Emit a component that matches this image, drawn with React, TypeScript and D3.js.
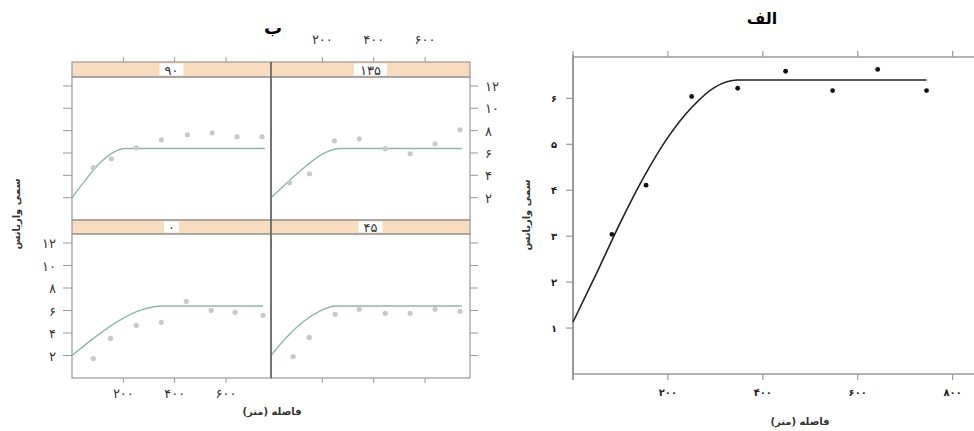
import React from "react";
import * as d3 from "d3";

// --- data: panel (ب), directional semivariograms ---
const angles = [0, 45, 90, 135];
const lag0 = [83, 150, 250, 348, 445, 542, 635, 744];
const gam0 = [1.73, 3.52, 4.68, 4.95, 6.82, 6.02, 5.84, 5.57];
const lag45 = [86, 149, 250, 344, 445, 542, 639, 736];
const gam45 = [1.91, 3.61, 5.66, 6.11, 5.75, 5.75, 6.11, 5.93];
const lag90 = [83, 153, 250, 348, 449, 546, 643, 740];
const gam90 = [4.68, 5.48, 6.46, 7.18, 7.63, 7.8, 7.45, 7.45];
const lag135 = [72, 150, 247, 344, 445, 542, 639, 736];
const gam135 = [3.34, 4.14, 7.09, 7.27, 6.38, 5.93, 6.82, 8.07];

// fitted model lines
const fitLag0 = [0, 90, 180, 270, 356, 744];
const fitGam0 = [2.0, 3.63, 5.05, 6.05, 6.4, 6.4];
const fitLag45 = [0, 60, 125, 190, 250, 743];
const fitGam45 = [2.0, 3.6, 5.0, 5.95, 6.4, 6.4];
const fitLag90 = [0, 50, 100, 150, 208, 751];
const fitGam90 = [2.0, 3.5, 4.9, 5.9, 6.4, 6.4];
const fitLag135 = [0, 70, 140, 200, 270, 743];
const fitGam135 = [2.0, 3.5, 4.9, 5.9, 6.4, 6.4];

const trellisXTicks = [200, 400, 600];
const trellisYTicks = [2, 4, 6, 8, 10, 12];

// --- data: panel (الف), omnidirectional semivariogram ---
const omniLag = [82, 154, 250, 347, 448, 547, 642, 745];
const omniGam = [3.04, 4.11, 6.04, 6.22, 6.59, 6.17, 6.63, 6.17];
const omniFitLag = [0, 50, 100, 150, 200, 250, 300, 347, 745];
const omniFitGam = [1.13, 2.2, 3.3, 4.3, 5.15, 5.8, 6.25, 6.4, 6.4];
const omniXTicks = [200, 400, 600, 800];
const omniYTicks = [1, 2, 3, 4, 5, 6];

const fa = (n: number) =>
  String(n).replace(/\d/g, (c) => "۰۱۲۳۴۵۶۷۸۹"[+c]);

const FONT = "'DejaVu Sans', sans-serif";

const panels = [
  { angle: angles[0], lag: lag0, gam: gam0, fl: fitLag0, fg: fitGam0, col: 0, row: 1 },
  { angle: angles[1], lag: lag45, gam: gam45, fl: fitLag45, fg: fitGam45, col: 1, row: 1 },
  { angle: angles[2], lag: lag90, gam: gam90, fl: fitLag90, fg: fitGam90, col: 0, row: 0 },
  { angle: angles[3], lag: lag135, gam: gam135, fl: fitLag135, fg: fitGam135, col: 1, row: 0 },
];

const cols = [
  [72, 271],
  [271, 470],
];
const rows = [
  { strip: 62, top: 77, bottom: 220 },
  { strip: 220, top: 234, bottom: 378 },
];

const Trellis = () => {
  const axisCol = "#999";
  return (
    <g fontFamily={FONT}>
      <text x={273} y={34} textAnchor="middle" fontSize={18} fontWeight="bold">ب</text>
      {panels.map((p, i) => {
        const [x0, x1] = cols[p.col];
        const r = rows[p.row];
        const x = d3.scaleLinear().domain([0, 775]).range([x0, x1]);
        const y = d3.scaleLinear().domain([0, 12.8]).range([r.bottom, r.top]);
        const line = d3
          .line<number>()
          .x((d) => x(d))
          .y((_, j) => y(p.fg[j]))
          .curve(d3.curveMonotoneX);
        const label = fa(p.angle);
        const cx = (x0 + x1) / 2;
        return (
          <g key={i}>
            <rect x={x0} y={r.strip} width={x1 - x0} height={r.top - r.strip} fill="#f9dcbd" stroke={axisCol} strokeWidth={1.2} />
            <rect x={cx - label.length * 4.5 - 3} y={r.strip + 1.5} width={label.length * 9 + 6} height={r.top - r.strip - 3} fill="#fff" />
            <text x={cx} y={r.top - 2.5} textAnchor="middle" fontSize={13} fill="#333">{label}</text>
            <rect x={x0} y={r.top} width={x1 - x0} height={r.bottom - r.top} fill="none" stroke={axisCol} strokeWidth={1.2} />
            <path d={line(p.fl) || ""} fill="none" stroke="#8fb5ad" strokeWidth={1.4} />
            {p.lag.map((l, j) => (
              <circle key={j} cx={x(l)} cy={y(p.gam[j])} r={2.6} fill="#c9c9c9" />
            ))}
            {/* x ticks top / bottom */}
            {p.row === 0 &&
              trellisXTicks.map((t) => (
                <line key={"t" + t} x1={x(t)} x2={x(t)} y1={r.strip} y2={r.strip - 5} stroke={axisCol} />
              ))}
            {p.row === 1 &&
              trellisXTicks.map((t) => (
                <line key={"b" + t} x1={x(t)} x2={x(t)} y1={r.bottom} y2={r.bottom + 5} stroke={axisCol} />
              ))}
            {p.row === 0 && p.col === 1 &&
              trellisXTicks.map((t) => (
                <text key={"tl" + t} x={x(t)} y={44} textAnchor="middle" fontSize={13} fill="#333">{fa(t)}</text>
              ))}
            {p.row === 1 && p.col === 0 &&
              trellisXTicks.map((t) => (
                <text key={"bl" + t} x={x(t)} y={398} textAnchor="middle" fontSize={13} fill="#333">{fa(t)}</text>
              ))}
            {/* y ticks */}
            {p.col === 0 &&
              trellisYTicks.map((t) => (
                <line key={"l" + t} x1={x0} x2={x0 - 9} y1={y(t)} y2={y(t)} stroke={axisCol} />
              ))}
            {p.col === 1 &&
              trellisYTicks.map((t) => (
                <line key={"r" + t} x1={x1} x2={x1 + 8} y1={y(t)} y2={y(t)} stroke={axisCol} />
              ))}
            {p.col === 0 && p.row === 1 &&
              trellisYTicks.map((t) => (
                <text key={"ll" + t} x={56} y={y(t) + 5} textAnchor="end" fontSize={13} fill="#333">{fa(t)}</text>
              ))}
            {p.col === 1 && p.row === 0 &&
              trellisYTicks.map((t) => (
                <text key={"rl" + t} x={485} y={y(t) + 5} textAnchor="start" fontSize={13} fill="#333">{fa(t)}</text>
              ))}
          </g>
        );
      })}
      <line x1={271} x2={271} y1={62} y2={378} stroke="#666" strokeWidth={1.6} />
      <text x={272} y={415} textAnchor="middle" fontSize={10} fontWeight="bold" fill="#333">فاصله (متر)</text>
      <text transform="translate(20,214) rotate(-90)" textAnchor="middle" fontSize={10} fontWeight="bold" fill="#333">سمی واریانس</text>
    </g>
  );
};

const Omni = () => {
  const x = d3.scaleLinear().domain([0, 845]).range([573, 974]);
  const y = d3.scaleLinear().domain([0, 6.9]).range([374, 57]);
  const line = d3
    .line<number>()
    .x((d) => x(d))
    .y((_, j) => y(omniFitGam[j]))
    .curve(d3.curveMonotoneX);
  const axisCol = "#9a9a9a";
  return (
    <g fontFamily={FONT}>
      <text x={762} y={24} textAnchor="middle" fontSize={16} fontWeight="bold">الف</text>
      <line x1={573} x2={974} y1={57} y2={57} stroke={axisCol} strokeWidth={1.6} />
      <line x1={573} x2={974} y1={374} y2={374} stroke={axisCol} strokeWidth={1.6} />
      <line x1={573} x2={573} y1={55} y2={380} stroke={axisCol} strokeWidth={2} />
      {[0, ...omniXTicks].map((t) => (
        <g key={t}>
          <line x1={x(t)} x2={x(t)} y1={374} y2={380} stroke={axisCol} strokeWidth={1.2} />
          <line x1={x(t)} x2={x(t)} y1={57} y2={51} stroke={axisCol} strokeWidth={1.2} />
        </g>
      ))}
      {omniXTicks.map((t) => (
        <text key={t} x={x(t)} y={396} textAnchor="middle" fontSize={10} fontWeight="bold" fill="#222">{fa(t)}</text>
      ))}
      {omniYTicks.map((t) => (
        <g key={t}>
          <line x1={566} x2={573} y1={y(t)} y2={y(t)} stroke={axisCol} strokeWidth={1.2} />
          <text x={557} y={y(t) + 4} textAnchor="end" fontSize={10} fontWeight="bold" fill="#222">{fa(t)}</text>
        </g>
      ))}
      <path d={line(omniFitLag) || ""} fill="none" stroke="#222" strokeWidth={1.6} />
      {omniLag.map((l, j) => (
        <circle key={j} cx={x(l)} cy={y(omniGam[j])} r={2.4} fill="#111" />
      ))}
      <text x={800} y={425} textAnchor="middle" fontSize={10} fontWeight="bold" fill="#333">فاصله (متر)</text>
      <text transform="translate(530,215) rotate(-90)" textAnchor="middle" fontSize={10} fontWeight="bold" fill="#333">سمی واریانس</text>
    </g>
  );
};

export default function App() {
  return (
    <svg
      width={974}
      height={431}
      style={{ position: "absolute", left: 0, top: 0, background: "#fff" }}
    >
      <Trellis />
      <Omni />
    </svg>
  );
}
